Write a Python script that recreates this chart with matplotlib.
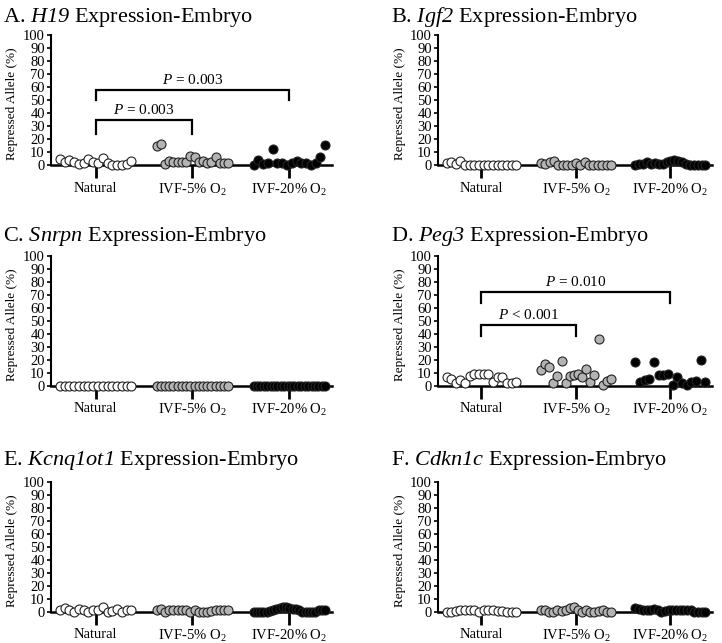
import matplotlib
matplotlib.use("Agg")
import matplotlib.pyplot as plt
import numpy as np

plt.rcParams['font.family'] = ['Liberation Serif', 'DejaVu Serif']
plt.rcParams['mathtext.fontset'] = 'custom'
plt.rcParams['mathtext.rm'] = 'Liberation Serif'
plt.rcParams['mathtext.it'] = 'Liberation Serif:italic'
# sf slot used for the italic gene names (so digits are italic too)
plt.rcParams['mathtext.sf'] = 'Liberation Serif:italic'

# groups and labels
groups = ['Natural', 'IVF-5% O$_2$', 'IVF-20% O$_2$']
face_colors = ['white', '#b3b3b3', 'black']

titles = ['A. $\\mathsf{H19}$ Expression-Embryo',
          'B. $\\mathsf{Igf2}$ Expression-Embryo',
          'C. $\\mathsf{Snrpn}$ Expression-Embryo',
          'D. $\\mathsf{Peg3}$ Expression-Embryo',
          'E. $\\mathsf{Kcnq1ot1}$ Expression-Embryo',
          'F. $\\mathsf{Cdkn1c}$ Expression-Embryo']

# repressed allele (%) per embryo
A_nat = [4.4, 2.6, 3.8, 2.6, 0.8, 1.8, 4.4, 2.0, 1.8, 5.0, 1.8, 0, 0, 0, 0.5, 3.0]
A_ivf5 = [14.6, 16, 0.5, 3.3, 2.3, 2, 2.6, 2, 7, 6, 2, 3, 1.3, 2, 6.4, 1.3, 1.3, 1.3]
A_ivf20 = [0, 3.8, 0.5, 1.3, 12, 1.3, 1.3, 0, 1.3, 3, 1.3, 1.3, 0, 1.3, 6.4, 15]

B_nat = [1.5, 2.5, 0.5, 3, 0, 0, 0, 0, 0, 0, 0, 0, 0, 0, 0, 0]
B_ivf5 = [1.5, 1, 2, 3, 0, 0, 0, 0, 1.5, 0, 2, 0, 0, 0, 0, 0, 0]
B_ivf20 = [0, 0.5, 1, 2, 0.5, 1.5, 0.5, 1, 2, 3, 4, 3, 2, 1, 0, 0, 0, 0, 0]

C_nat = [0] * 16
C_ivf5 = [0] * 18
C_ivf20 = [0] * 22

D_nat = [6.6, 5.3, 1.8, 4.5, 1.8, 7.4, 8.7, 9.2, 9.2, 9.2, 3.2, 6.6, 6.6, 2, 2, 2.6]
D_ivf5 = [12.4, 17, 14.5, 1.8, 7.4, 19, 1.8, 7.4, 8.4, 9.2, 7, 12.6, 3.2, 8.4, 36, 0.8, 3.4, 5.3]
D_ivf20 = [18, 3, 4.5, 5, 18, 8, 8, 9, 0.5, 7, 2, 0.5, 3, 4, 20, 3]

E_nat = [1, 2.5, 1, 0, 2, 1.5, 0, 1.5, 1, 4, 0, 0.5, 2, 0, 1, 1.5]
E_ivf5 = [1, 2, 0, 1, 1.5, 1.5, 1.5, 1, 0, 1.5, 0, 0, 0, 0.5, 1.5, 1.5, 1.5, 1]
E_ivf20 = [0, 0, 0, 0, 0, 0.5, 1, 2, 3, 4, 3.5, 3, 2, 2, 1, 0, 0, 0, 0, 0, 1, 1.5, 1]

F_nat = [0, 0, 0.5, 1, 1, 1, 1, 0, 1, 1, 1.5, 0.5, 0.5, 0, 0, 0]
F_ivf5 = [1, 1, 0, 0, 1, 0.5, 1.5, 2.5, 4, 1, 0, 1, 0, 0, 0.5, 1, 0, 0]
F_ivf20 = [3, 2, 1.5, 1, 1, 2, 1, 0, 0.5, 1, 1, 1, 1, 1, 1, 1, 0, 0, 0, 0]

panel_data = [[A_nat, A_ivf5, A_ivf20], [B_nat, B_ivf5, B_ivf20],
              [C_nat, C_ivf5, C_ivf20], [D_nat, D_ivf5, D_ivf20],
              [E_nat, E_ivf5, E_ivf20], [F_nat, F_ivf5, F_ivf20]]

# significance brackets: (group from, group to, low y, high y, label)
A_brackets = [(0, 1, 24, 34.6, '$P$ = 0.003'), (0, 2, 50, 58, '$P$ = 0.003')]
D_brackets = [(0, 1, 38, 47, '$P$ < 0.001'), (0, 2, 64, 72.3, '$P$ = 0.010')]
panel_brackets = {0: A_brackets, 3: D_brackets}

W, H = 722, 643
fig = plt.figure(figsize=(W / 100, H / 100), dpi=100)

col_left = [51, 438]
col_width = [281, 274]
row_zero = [165, 385.7, 611.7]
row_title = [22, 241, 465]
title_x = [3, 391]
ax_h = 130

for i in range(6):
    r, c = i // 2, i % 2
    left = col_left[c] / W
    bottom = (H - row_zero[r]) / H
    ax = fig.add_axes([left, bottom, col_width[c] / W, ax_h / H])

    for g in range(3):
        vals = panel_data[i][g]
        xs = g + np.linspace(-0.37, 0.37, len(vals))
        ax.scatter(xs, vals, s=42, facecolor=face_colors[g], edgecolor='#222222',
                   linewidth=0.8, zorder=3, clip_on=False)

    for (g0, g1, lo, hi, lab) in panel_brackets.get(i, []):
        ax.plot([g0, g0, g1, g1], [lo, hi, hi, lo], color='black', lw=1.6,
                solid_joinstyle='miter')
        ax.text((g0 + g1) / 2, hi + 2, lab, ha='center', va='bottom', fontsize=11)

    ax.set_ylim(0, 100)
    ax.set_xlim(-0.46, 2.44)
    ax.set_yticks(range(0, 101, 10))
    ax.set_xticks([0, 1, 2])
    ax.set_xticklabels(groups, fontsize=10.5)
    ax.tick_params(axis='y', labelsize=10.5, length=3, width=1.2, pad=1.5)
    ax.tick_params(axis='x', length=9, width=2, pad=3)
    for side in ['top', 'right']:
        ax.spines[side].set_visible(False)
    ax.spines['left'].set_linewidth(1.5)
    ax.spines['bottom'].set_linewidth(1.8)
    ax.set_ylabel('Repressed Allele (%)', fontsize=9.5)
    ax.yaxis.set_label_coords(-0.117, 0.47)

    fig.text(title_x[c] / W, (H - row_title[r]) / H, titles[i],
             fontsize=16, ha='left', va='baseline')

fig.savefig('out.png', dpi=100)
